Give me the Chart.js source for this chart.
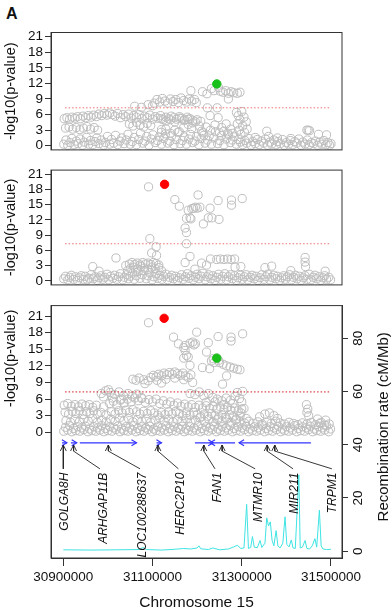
<!DOCTYPE html>
<html><head><meta charset="utf-8">
<script src="https://cdn.jsdelivr.net/npm/chart.js@4.4.1/dist/chart.umd.min.js"></script>
<style>
html,body{margin:0;padding:0;background:#fff;}
body{width:392px;height:614px;position:relative;overflow:hidden;font-family:'Liberation Sans',Arial,sans-serif;}
canvas{position:absolute;left:0;}
#lab{position:absolute;left:6px;top:5px;font-weight:bold;font-size:16px;color:#111;}
</style></head><body>
<div id="lab">A</div>
<canvas id="c1" width="392" height="160" style="top:0px;width:392px;height:160px"></canvas>
<canvas id="c2" width="392" height="135" style="top:160px;width:392px;height:135px"></canvas>
<canvas id="c3" width="392" height="319" style="top:295px;width:392px;height:319px"></canvas>
<script>
// ---------- data (positions in kb on chromosome 15, values = -log10 p) ----------
const X_TICKS = [30900000, 31100000, 31300000, 31500000];
const P_TICKS = [0, 3, 6, 9, 12, 15, 18, 21];
const R_TICKS = [0, 20, 40, 60, 80];
const GWAS_LINE = 7.3;
const THRESH_SPAN_KB = [30904, 31498];

const P1_LEAD = [[31244, 11.9]];
const P1_GREY = [
[30901,0.3],[30906,1.1],[30910,0.1],[30915,0.6],[30919,1.4],[30924,0.2],[30929,0.9],[30933,0.4],[30938,1.3],[30943,0.1],[30947,0.7],[30952,1.6],[30957,0.3],[30961,1.0],[30966,0.2],[30971,0.8],[30975,1.5],[30980,0.4],[30985,1.1],[30990,0.1],[30994,0.6],[30999,1.8],[31004,0.3],[31008,1.2],[31013,0.5],[31017,2.0],[31022,0.2],[31027,0.9],[31031,1.5],[31036,0.4],[31041,1.1],[31045,2.2],[31050,0.3],[31055,0.8],[31059,1.6],[31064,0.2],[31069,1.2],[31073,2.4],[31078,0.5],[31083,0.9],[31087,1.8],[31092,0.1],[31097,1.3],[31101,2.1],[31106,0.6],[31111,1.0],[31115,1.7],[31120,0.3],[31125,1.4],[31129,2.3],[31134,0.5],[31139,0.9],[31143,1.9],[31148,0.2],[31153,1.2],[31157,2.6],[31162,0.4],[31167,1.0],[31171,1.7],[31176,0.3],[31181,1.3],[31185,2.2],[31190,0.6],[31195,0.9],[31199,1.8],[31204,0.2],[31209,1.4],[31213,2.5],[31218,0.5],[31223,1.1],[31227,1.9],[31232,0.3],[31237,1.5],[31241,2.7],[31246,0.4],[31251,1.0],[31255,2.0],[31260,0.2],[31265,1.3],[31269,2.4],[31274,0.6],[31279,1.1],[31283,1.7],[31288,0.3],[31293,1.2],[31297,0.7],[31302,0.2],[31307,1.0],[31311,0.5],[31316,1.4],[31321,0.1],[31325,0.8],[31330,0.4],[31335,1.2],[31339,0.2],[31344,0.9],[31349,0.5],[31353,1.3],[31358,0.1],[31363,0.7],[31367,0.3],[31372,1.1],[31377,0.2],[31381,0.8],[31386,0.4],[31391,1.2],[31395,0.1],[31400,0.6],[31405,0.3],[31409,1.0],[31414,0.2],[31419,0.8],[31423,0.5],[31428,1.3],[31433,0.1],[31437,0.7],[31442,0.3],[31447,1.1],[31451,0.2],[31456,0.6],[31461,0.4],[31465,0.9],[31470,0.1],[31475,0.7],[31479,0.3],[31484,1.0],[31489,0.2],[31493,0.6],[31497,0.1],[31500,0.4],
[30902,5.2],[30908,5.4],[30914,5.1],[30920,5.5],[30926,5.3],[30932,5.6],[30938,5.2],[30944,5.7],[30950,5.4],[30956,5.8],[30962,5.5],[30968,5.9],[30974,5.6],[30980,6.1],[30986,5.8],[30992,6.2],[30998,5.9],[31004,6.3],[31010,6.0],[31016,5.7],[31022,6.2],[31028,5.4],[31034,6.0],[31040,5.6],[31046,6.1],[31052,5.3],[31058,5.8],[31064,5.5],[31070,6.0],[31076,5.2],[31082,5.7],[31088,5.4],[31094,5.9],[31100,5.1],[31106,5.6],[31112,5.3],[31118,5.8],[31124,5.0],[31130,5.5],[31136,5.2],[31142,5.7],[31148,5.4],[31154,5.1],[31160,5.6],[31166,5.3],[31172,5.0],[31178,5.5],[31184,5.2],[31190,4.9],
[30905,3.4],[30913,3.6],[30921,3.2],[30929,3.5],[30937,3.1],[30945,3.4],[30953,3.7],[30961,3.2],[30969,3.5],[30977,3.0],[31048,4.2],[31056,3.8],[31064,4.5],[31072,4.0],[31080,3.6],[31088,4.3],[31096,3.9],[31120,3.1],
[31120,2.6],[31130,3.2],[31140,2.4],[31150,3.0],[31160,2.7],[31170,3.5],[31180,4.1],[31188,3.3],[31196,4.6],[31205,3.8],
[31120,5.2],[31130,4.8],[31140,5.0],[31150,4.6],[31160,5.3],[31170,4.9],[31180,5.1],[31190,4.4],[31200,5.0],[31208,4.7],
[31104,8.2],[31110,8.9],[31116,8.4],[31122,9.1],[31128,8.6],[31134,8.2],[31140,9.0],[31146,8.5],[31152,8.9],[31158,8.3],[31164,9.2],[31170,8.7],[31176,8.4],[31182,9.0],[31188,8.6],[31194,8.9],[31198,8.3],
[31060,7.6],[31075,7.4],[31090,7.9],[31100,7.7],[31186,10.6],
[31212,10.4],[31222,10.0],[31232,11.0],[31238,10.6],[31248,11.2],[31252,10.5],[31258,10.3],[31264,10.6],[31270,10.1],[31276,10.4],[31282,10.2],[31290,10.1],[31296,10.3],
[31270,9.0],[31223,7.3],[31245,7.3],[31229,5.8],[31247,5.4],
[31288,6.4],[31300,6.6],[31292,5.8],[31305,5.5],[31296,5.0],[31310,4.6],[31290,4.2],[31302,3.8],[31312,3.2],[31294,3.0],[31306,2.6],[31298,2.2],[31240,4.0],[31255,3.5],[31265,4.2],[31275,3.2],[31230,3.0],[31220,3.6],[31210,2.8],[31250,2.5],[31260,2.8],[31280,2.4],[31215,2.0],[31270,2.1],
[31356,2.8],[31446,3.0],[31452,2.9],[31449,3.0],[31472,2.2],[31490,2.1],[31330,1.6],[31380,1.5],[31410,1.4],[31360,1.8]
];

const P2_LEAD = [[31127, 19.0]];
const P2_GREY = [
[30901,0.4],[30905,0.9],[30910,0.2],[30914,0.7],[30918,1.1],[30923,0.3],[30927,0.8],[30932,0.1],[30936,0.6],[30940,1.0],[30945,0.3],[30949,0.9],[30954,0.2],[30958,0.5],[30962,1.2],[30967,0.4],[30971,0.8],[30976,0.1],[30980,0.6],[30984,1.0],[30989,0.3],[30993,0.7],[30998,1.3],[31002,0.2],[31006,0.9],[31011,0.5],[31015,1.1],[31020,0.3],[31024,0.8],[31028,1.4],[31033,0.2],[31037,0.7],[31042,1.2],[31046,0.4],[31050,0.9],[31055,1.5],[31059,0.3],[31064,1.0],[31068,1.8],[31072,0.5],[31077,1.2],[31081,2.0],[31086,0.4],[31090,1.0],[31094,1.6],[31099,0.2],[31103,0.8],[31108,1.4],[31112,0.5],[31116,1.1],[31121,0.3],[31125,0.9],[31130,1.3],[31134,0.2],[31138,0.7],[31143,1.1],[31147,0.4],[31152,0.9],[31156,0.1],[31160,0.6],[31165,1.2],[31169,0.3],[31174,0.8],[31178,1.4],[31182,0.5],[31187,1.0],[31191,0.2],[31196,0.7],[31200,1.3],[31204,0.4],[31209,0.9],[31213,1.5],[31218,0.2],[31222,0.8],[31226,1.2],[31231,0.4],[31235,1.0],[31240,0.1],[31244,0.7],[31248,1.3],[31253,0.3],[31257,0.9],[31262,1.4],[31266,0.2],[31270,0.8],[31275,1.2],[31279,0.4],[31284,1.0],[31288,0.1],[31292,0.6],[31297,1.1],[31301,0.3],[31306,0.8],[31310,1.2],[31314,0.2],[31319,0.7],[31323,1.1],[31328,0.4],[31332,0.9],[31336,0.1],[31341,0.6],[31345,1.2],[31350,0.3],[31354,0.8],[31358,1.3],[31363,0.2],[31367,0.7],[31372,1.1],[31376,0.4],[31380,0.9],[31385,0.1],[31389,0.6],[31394,1.0],[31398,0.3],[31402,0.8],[31407,1.2],[31411,0.2],[31416,0.7],[31420,1.1],[31424,0.4],[31429,0.9],[31433,0.1],[31438,0.6],[31442,1.0],[31446,0.3],[31451,1.3],[31455,0.2],[31460,0.7],[31464,1.1],[31468,0.4],[31473,0.8],[31477,0.1],[31482,0.6],[31486,1.0],[31490,0.3],[31495,0.7],[31499,0.2],
[31048,3.3],[31054,3.6],[31060,3.2],[31066,3.5],[31072,3.1],[31078,3.6],[31084,3.3],[31090,3.5],[31096,3.2],[31102,3.6],[31108,3.4],[31114,3.1],[31050,2.4],[31058,2.7],[31066,2.3],[31074,2.8],[31082,2.5],[31090,2.2],[31098,2.7],[31106,2.4],[31114,2.6],[31044,2.0],[31120,2.0],
[31091,18.5],[31150,16.0],[31160,14.7],[31180,13.9],[31176,12.3],[31184,12.4],[31192,14.3],[31196,14.5],[31202,16.9],[31173,10.4],[31176,9.5],[31176,7.3],[31094,8.3],[31108,6.7],[31098,5.5],[31109,5.0],[31018,4.5],[31040,3.0],[31184,4.8],[31173,3.6],[31195,2.3],[31247,15.8],[31277,15.9],[31277,14.9],[31301,16.2],[31188,14.2],[31200,14.3],[31206,14.5],[31229,14.3],[31214,11.2],[31225,12.4],[31233,12.4],[31249,12.1],[31186,12.2],
[31230,4.3],[31244,4.2],[31252,4.3],[31260,4.2],[31268,4.3],[31276,4.2],[31284,4.3],[31221,3.1],[31210,3.5],[31298,2.8],[31285,2.7],[31352,2.6],[31367,2.9],[31442,4.6],[31442,3.7],[31443,2.8],[31487,1.9],[30966,2.8],[30980,1.9],[31410,2.0]
];

const P3_LEAD = [[31126, 20.6]];
const P3_SECOND = [[31244, 13.4]];
const P3_GREY = [
[30901,0.2],[30905,0.9],[30910,0.4],[30914,1.2],[30919,0.1],[30923,0.7],[30928,0.3],[30932,1.0],[30937,0.2],[30941,0.8],[30946,0.5],[30950,1.1],[30955,0.1],[30959,0.6],[30964,0.3],[30968,1.0],[30973,0.2],[30977,0.8],[30982,0.4],[30986,1.2],[30991,0.1],[30995,0.7],[31000,0.3],[31004,1.0],[31009,0.2],[31013,0.8],[31018,0.5],[31022,1.1],[31027,0.1],[31031,0.6],[31036,0.3],[31040,1.0],[31045,0.2],[31049,0.8],[31054,0.4],[31058,1.2],[31063,0.1],[31067,0.7],[31072,0.3],[31076,1.0],[31081,0.2],[31085,0.8],[31090,0.5],[31094,1.1],[31099,0.1],[31103,0.6],[31108,0.3],[31112,1.0],[31117,0.2],[31121,0.8],[31126,0.4],[31130,1.2],[31135,0.1],[31139,0.7],[31144,0.3],[31148,1.0],[31153,0.2],[31157,0.8],[31162,0.5],[31166,1.1],[31171,0.1],[31175,0.6],[31180,0.3],[31184,1.0],[31189,0.2],[31193,0.8],[31198,0.4],[31202,1.2],[31207,0.1],[31211,0.7],[31216,0.3],[31220,1.0],[31225,0.2],[31229,0.8],[31234,0.5],[31238,1.1],[31243,0.1],[31247,0.6],[31252,0.3],[31256,1.0],[31261,0.2],[31265,0.8],[31270,0.4],[31274,1.2],[31279,0.1],[31283,0.7],[31288,0.3],[31292,1.0],[31297,0.2],[31301,0.8],[31306,0.5],[31310,1.1],[31315,0.1],[31319,0.6],[31324,0.3],[31328,1.0],[31333,0.2],[31337,0.8],[31342,0.4],[31346,1.2],[31351,0.1],[31355,0.7],[31360,0.3],[31364,1.0],[31369,0.2],[31373,0.8],[31378,0.5],[31382,1.1],[31387,0.1],[31391,0.6],[31396,0.3],[31400,1.0],[31405,0.2],[31409,0.8],[31414,0.4],[31418,1.2],[31423,0.1],[31427,0.7],[31432,0.3],[31436,1.0],[31441,0.2],[31445,0.8],[31450,0.5],[31454,1.1],[31459,0.1],[31463,0.6],[31468,0.3],[31472,1.0],[31477,0.2],[31481,0.8],[31486,0.4],[31490,1.2],[31495,0.1],[31499,0.6],
[30906,2.1],[30916,1.8],[30926,2.3],[30936,1.9],[30946,2.4],[30956,2.0],[30966,2.5],[30976,1.8],[30986,2.2],[30996,1.9],[31006,2.4],[31016,2.0],[31026,2.6],[31036,2.1],[31046,2.5],[31056,1.9],[31066,2.3],[31076,2.0],[31086,2.4],[31096,1.8],[31106,2.2],[31116,2.6],[31126,2.0],[31136,2.4],[31146,1.9],[31156,2.3],[31166,2.0],[31176,2.5],[31186,1.8],[31196,2.2],[31206,2.6],[31216,2.0],[31226,2.4],[31236,1.9],[31246,2.3],[31256,2.0],[31266,2.4],[31276,1.8],[31286,2.2],[31296,1.9],[31306,1.7],[31316,2.0],[31326,1.6],[31336,1.9],[31346,1.5],[31356,1.8],[31366,1.6],[31376,2.0],[31386,1.7],[31396,1.5],[31406,1.8],[31416,1.6],[31426,1.4],[31436,1.7],[31446,1.5],[31456,1.8],[31466,1.4],[31476,1.6],[31486,1.3],[31496,1.5],
[30904,3.6],[30912,3.3],[30920,3.8],[30928,3.4],[30936,3.9],[30944,3.2],[30952,3.7],[30960,3.4],[30968,3.9],[30976,3.3],[30984,3.6],[30996,3.1],[31008,3.7],[31016,3.3],[31024,3.9],[31032,3.5],[31040,4.0],[31048,3.6],[31056,4.1],[31064,3.7],[31072,3.3],[31080,3.8],[31088,3.4],[31096,3.9],[31104,3.5],[31112,3.1],[31120,3.6],[31128,3.2],[31136,3.7],[31144,3.3],[31152,3.8],[31160,3.4],[31168,3.0],[31176,3.5],[31184,3.1],[31192,3.6],[31200,3.2],[31208,2.8],[31216,3.3],[31224,2.9],[31232,3.4],[31240,3.0],[31248,2.6],[31256,3.1],[31264,2.7],[31272,3.2],[31280,2.8],[31288,2.4],[31296,2.9],[31310,2.5],
[30902,4.9],[30910,5.2],[30918,4.7],[30926,5.0],[30934,4.6],[30942,5.1],[30950,4.8],[30958,5.0],[30966,4.5],[30974,4.9],[30990,4.6],[31004,5.2],[31012,5.6],[31020,5.0],[31028,5.8],[31036,5.3],[31044,6.0],[31052,5.5],[31060,6.2],[31068,5.7],[31076,6.1],[31084,5.4],[31092,5.9],[31100,5.5],[31108,6.0],[31116,5.2],[31124,5.7],[31132,5.1],[31140,5.5],[31148,4.9],[31156,5.3],[31164,4.7],[31172,5.1],[31180,4.6],[31188,5.0],[31196,4.5],[31204,4.9],[31212,4.4],[31220,4.8],[31228,4.3],[31236,4.7],[31244,4.2],[31252,4.6],[31260,4.1],[31268,4.5],[31276,4.0],[31284,4.4],[31292,3.9],[31300,4.2],
[30985,7.0],[30995,7.5],[31005,7.2],[31015,6.8],[31025,7.3],[31035,6.6],[31045,7.0],[31055,6.5],[31065,6.9],[31075,6.3],[30990,6.4],[31010,6.2],[31030,6.0],[31001,7.7],
[31184,7.0],[31195,6.8],[31205,7.3],[31215,6.6],[31225,7.0],[31235,6.3],[31245,6.0],[31255,5.7],[31265,6.2],[31275,5.8],[31285,6.5],[31295,6.1],[31300,5.5],[31290,7.2],[31302,7.4],[31220,5.4],[31240,5.5],[31260,5.0],[31280,5.2],[31305,4.3],[31298,3.5],
[31056,9.6],[31063,9.4],[31070,9.8],[31080,9.5],[31090,9.3],[31096,9.9],[31102,10.3],[31108,10.0],[31114,10.5],[31120,10.2],[31126,10.7],[31132,10.4],[31138,10.8],[31144,10.5],[31150,10.9],[31156,10.6],[31162,10.3],[31168,10.7],[31174,10.2],[31180,9.9],[31186,10.4],[31110,9.4],[31130,9.6],[31150,9.8],[31170,9.5],[31120,8.9],[31190,9.0],[31083,8.8],
[31091,19.8],[31199,18.1],[31147,17.2],[31158,16.0],[31184,16.1],[31190,16.3],[31196,16.0],[31193,15.8],[31173,14.8],[31176,13.9],[31180,13.6],[31170,13.4],[31184,12.1],[31173,15.7],[31170,15.3],[31212,11.7],[31221,14.5],[31225,16.2],[31247,17.3],[31276,17.2],[31276,16.5],[31302,17.8],
[31232,12.9],[31238,12.6],[31250,12.6],[31258,12.3],[31266,12.0],[31274,11.8],[31282,11.6],[31290,11.4],[31296,11.3],[31228,11.5],[31236,13.3],[31248,13.0],[31244,13.4],[31266,10.2],[31257,8.7],
[31445,5.0],[31448,4.2],[31446,3.6],[31450,3.0],[31352,3.3],[31362,3.5],[31372,3.0],[31340,2.8],[31380,2.5],[31470,2.4],[31488,2.2],[31478,1.8]
];

// recombination rate (cM/Mb) along the region
const RECOMB = [
[30900,0.5],[30960,0.4],[31020,0.5],[31070,0.6],[31079,1.4],[31086,0.6],[31120,0.4],[31150,0.7],[31170,1.0],[31185,0.8],[31200,1.2],[31204,2.0],[31208,0.9],[31225,0.6],[31235,1.2],[31250,0.5],[31270,0.8],[31282,1.6],[31290,2.2],[31298,1.0],[31305,1.2],[31311,17.6],[31315,1.0],[31320,1.4],[31324,5.5],[31328,1.5],[31335,1.3],[31341,4.0],[31345,1.4],[31352,3.0],[31356,12.5],[31360,9.5],[31364,11.0],[31368,4.0],[31372,2.0],[31377,7.7],[31381,2.0],[31386,1.2],[31392,3.0],[31397,12.9],[31401,2.5],[31406,1.6],[31411,4.2],[31415,1.2],[31420,1.0],[31428,28.7],[31431,1.2],[31436,1.5],[31442,4.0],[31446,1.0],[31452,0.8],[31458,2.0],[31464,4.7],[31468,1.5],[31474,15.4],[31478,2.0],[31482,0.8],[31490,0.6],[31500,0.7]
];

// genes: [start kb, end kb, strand]
const GENE_SPANS = [[30897,30908,1],[30917,30930,1],[30937,31064,1],[31109,31120,1],[31195,31236,1],[31229,31285,-1],[31294,31455,-1]];
const GENE_NAMES = ['GOLGA8H','ARHGAP11B','LOC100288637','HERC2P10','FAN1','MTMR10','MIR211','TRPM1'];
const GENE_MARK_KB = [30900, 30923, 31001, 31112, 31215, 31256, 31357, 31374];
const GENE_LINK_KB = [30900, 30982, 31072, 31158, 31240, 31330, 31415, 31502];
const GENE_LABEL_KB = [30903, 30990, 31078, 31162, 31247, 31337, 31419, 31504];

// ---------- layout constants ----------
const FONT = "'Liberation Sans', Arial, Helvetica, sans-serif";
const XMIN = 30872400, XMAX = 31524700;
const GENE_Y = -1.9, MARK_TIP = -2.3, MARK_BEND = -3.4, LINK_END = -6.6, LABEL_Y = -7.3;
const GREY = '#bdbdbd';

Chart.defaults.font.family = FONT;
Chart.defaults.color = '#111';
Chart.defaults.animation = false;

const toXY = arr => arr.map(([kb, v]) => ({x: kb * 1000, y: v}));

const boxPlugin = {
  id: 'box',
  afterDatasetsDraw(chart) {
    const a = chart.chartArea, c = chart.ctx;
    c.save(); c.strokeStyle = '#333'; c.lineWidth = 1;
    c.strokeRect(a.left, a.top, a.right - a.left, a.bottom - a.top);
    c.restore();
  }
};

function pAxis(min, max, title, align) {
  return {
    type: 'linear', position: 'left', min, max,
    afterBuildTicks: s => { s.ticks = P_TICKS.map(v => ({value: v})); },
    afterFit: s => { s.width = 51; },
    grid: {drawOnChartArea: false, drawTicks: true, tickLength: 6, tickColor: '#333'},
    border: {display: true, color: '#333'},
    ticks: {font: {size: 13.5}, padding: 2, color: '#111', autoSkip: false, callback: v => String(v)},
    title: {display: true, text: title, align: align || 'center', font: {size: 14.5}, padding: {top: 2, bottom: 0}, color: '#111'}
  };
}
function hiddenX() { return {type: 'linear', display: false, min: XMIN, max: XMAX}; }
function greySet(arr) {
  return {data: toXY(arr), pointRadius: 4.1, pointBorderWidth: 1, borderColor: GREY, backgroundColor: 'rgba(0,0,0,0)', pointStyle: 'circle'};
}
function leadSet(arr, col) {
  return {data: toXY(arr), pointRadius: 4.2, pointBorderWidth: 1, borderColor: col, backgroundColor: col};
}
function threshSet(col) {
  return {data: THRESH_SPAN_KB.map(kb => ({x: kb * 1000, y: GWAS_LINE})), showLine: true, pointRadius: 0, borderColor: col, borderWidth: 1, borderDash: [1.5, 2]};
}

const common = {responsive: false, events: [], plugins: {legend: {display: false}, tooltip: {enabled: false}}};

new Chart(document.getElementById('c1'), {
  type: 'scatter',
  data: {datasets: [leadSet(P1_LEAD, '#19c019'), threshSet('#f07070'), greySet(P1_GREY)]},
  options: {...common, layout: {padding: {left: 0, right: 50, top: 32.5, bottom: 7.5}},
    scales: {x: hiddenX(), y: pAxis(-0.8, 21.8, '-log10(p-value)')}},
  plugins: [boxPlugin]
});

new Chart(document.getElementById('c2'), {
  type: 'scatter',
  data: {datasets: [leadSet(P2_LEAD, '#ff0000'), threshSet('#f07070'), greySet(P2_GREY)]},
  options: {...common, layout: {padding: {left: 0, right: 50, top: 7, bottom: 8}},
    scales: {x: hiddenX(), y: pAxis(-0.8, 21.8, '-log10(p-value)')}},
  plugins: [boxPlugin]
});

const annoPlugin = {
  id: 'anno',
  afterDatasetsDraw(chart) {
    const c = chart.ctx, xs = chart.scales.x, ys = chart.scales.y, a = chart.chartArea;
    c.save();
    c.strokeStyle = '#3535ff'; c.lineWidth = 1.2;
    GENE_SPANS.forEach(([s, e, dir]) => {
      const tip = xs.getPixelForValue((dir > 0 ? e : s) * 1000), y = ys.getPixelForValue(GENE_Y);
      c.beginPath(); c.moveTo(tip - dir * 5, y - 3); c.lineTo(tip, y); c.lineTo(tip - dir * 5, y + 3); c.stroke();
    });
    c.strokeStyle = '#222'; c.lineWidth = 0.9;
    GENE_MARK_KB.forEach(kb => {
      const x = xs.getPixelForValue(kb * 1000), y = ys.getPixelForValue(MARK_TIP);
      c.beginPath(); c.moveTo(x - 3, y + 6); c.lineTo(x, y); c.lineTo(x + 3, y + 6); c.stroke();
    });
    c.fillStyle = '#111'; c.font = 'italic 12px ' + FONT; c.textAlign = 'right'; c.textBaseline = 'middle';
    GENE_NAMES.forEach((n, i) => {
      c.save();
      c.translate(xs.getPixelForValue(GENE_LABEL_KB[i] * 1000), ys.getPixelForValue(LABEL_Y));
      c.rotate(-Math.PI / 2); c.fillText(n, 0, 0); c.restore();
    });
    c.font = '15px ' + FONT; c.textAlign = 'center';
    c.translate(chart.width - 8, (a.top + a.bottom) / 2 - 5);
    c.rotate(-Math.PI / 2); c.fillText('Recombination rate (cM/Mb)', 0, 0);
    c.restore();
  }
};

const geneLines = [];
GENE_SPANS.forEach(([s, e]) => { geneLines.push({x: s * 1000, y: GENE_Y}, {x: e * 1000, y: GENE_Y}, {x: e * 1000, y: null}); });
const linkLines = [];
GENE_MARK_KB.forEach((kb, i) => {
  linkLines.push({x: kb * 1000, y: MARK_TIP}, {x: kb * 1000, y: MARK_BEND}, {x: GENE_LINK_KB[i] * 1000, y: LINK_END}, {x: GENE_LINK_KB[i] * 1000, y: null});
});

new Chart(document.getElementById('c3'), {
  type: 'scatter',
  data: {datasets: [
    leadSet(P3_LEAD, '#ff0000'),
    leadSet(P3_SECOND, '#19c019'),
    threshSet('#d41a1a'),
    greySet(P3_GREY),
    {data: geneLines, showLine: true, pointRadius: 0, borderColor: '#3535ff', borderWidth: 1.2, spanGaps: false},
    {data: linkLines, showLine: true, pointRadius: 0, borderColor: '#222', borderWidth: 0.9, spanGaps: false},
    {data: toXY(RECOMB), yAxisID: 'y2', showLine: true, pointRadius: 0, borderColor: '#3fe3e3', borderWidth: 1}
  ]},
  options: {...common, layout: {padding: {left: 0, right: 0, top: 6, bottom: 0}},
    scales: {
      x: {type: 'linear', position: 'bottom', min: XMIN, max: XMAX,
        afterBuildTicks: s => { s.ticks = X_TICKS.map(v => ({value: v})); },
        afterFit: s => { s.height = 56; },
        grid: {drawOnChartArea: false, drawTicks: true, tickLength: 8, tickColor: '#333'},
        border: {display: true, color: '#333'},
        ticks: {font: {size: 13.5}, padding: 3, color: '#111', minRotation: 0, maxRotation: 0, autoSkip: false, callback: v => String(v)},
        title: {display: true, text: 'Chromosome 15', font: {size: 15.5}, padding: {top: 0, bottom: 2}, color: '#111'}},
      y: pAxis(-22.72, 22.9, '-log10(p-value) ', 'end'),
      y2: {type: 'linear', position: 'right', min: -2.58, max: 92.3,
        afterBuildTicks: s => { s.ticks = R_TICKS.map(v => ({value: v})); },
        afterFit: s => { s.width = 50; },
        grid: {drawOnChartArea: false, drawTicks: true, tickLength: 6, tickColor: '#333'},
        border: {display: true, color: '#333'},
        ticks: {font: {size: 13.5}, padding: 2.5, color: '#111', autoSkip: false, minRotation: 90, maxRotation: 90, crossAlign: 'center', callback: v => String(v)},
        title: {display: false}}
    }},
  plugins: [boxPlugin, annoPlugin]
});
</script></body></html>
